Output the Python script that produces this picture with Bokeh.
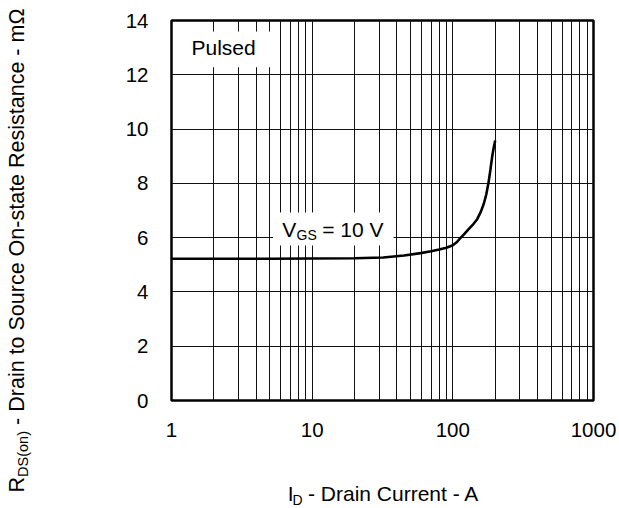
import math
from bokeh.plotting import figure
from bokeh.layouts import row, column
from bokeh.models import FixedTicker, Label, BasicTickFormatter, Range1d
from bokeh.embed import file_html
from bokeh.resources import INLINE

# ---- data ----
drain_current_A = [1, 5, 20, 32, 45, 59, 70, 80, 90, 100, 107, 113, 120, 130, 140, 149,
                   158, 166, 173, 179, 185, 190, 195, 200]
rds_on_mohm = [5.22, 5.22, 5.24, 5.27, 5.34, 5.43, 5.50, 5.56, 5.63, 5.72, 5.84, 5.98,
               6.12, 6.32, 6.50, 6.68, 6.95, 7.25, 7.60, 8.00, 8.50, 8.95, 9.30, 9.58]
x_ticks = [1, 10, 100, 1000]
x_tick_labels = ["1", "10", "100", "1000"]
y_ticks = [0, 2, 4, 6, 8, 10, 12, 14]
x_grid = [m * 10 ** k for k in range(3) for m in range(1, 10)] + [1000]
y_grid = [2, 4, 6, 8, 10, 12]

FONT = "Liberation Sans"
W, H = 619, 508
LW = 40          # width of the strip holding the y title
BH = 28          # height of the strip holding the x title
# frame position in the picture (px)
FL, FR, FT, FB = 171, 593, 20, 400
BASE_SHIFT = 0.38  # baseline correction, in em


def xd(px):
    return 10 ** (3.0 * (px - FL) / (FR - FL))


def yd(py):
    return 14.0 * (FB - py) / (FB - FT)


MW, MH = W - LW, H - BH
p = figure(width=MW, height=MH, x_axis_type="log", x_range=(1, 1000), y_range=(0, 14),
           output_backend="svg", toolbar_location=None,
           min_border_left=FL - LW, min_border_right=W - FR,
           min_border_top=FT, min_border_bottom=MH - FB)
p.background_fill_color = "white"
p.border_fill_color = "white"
p.outline_line_color = "black"
p.outline_line_width = 2.5

# grids
p.xgrid.ticker = FixedTicker(ticks=x_grid)
p.ygrid.ticker = FixedTicker(ticks=y_grid)
for g in (p.xgrid, p.ygrid):
    g.grid_line_color = "#111111"
    g.grid_line_width = 1
    g.minor_grid_line_color = None

# axes
p.xaxis.ticker = FixedTicker(ticks=x_ticks)
p.xaxis.formatter = BasicTickFormatter(use_scientific=False)
p.xaxis.major_label_overrides = dict(zip([float(t) for t in x_ticks], x_tick_labels))
p.yaxis.ticker = FixedTicker(ticks=y_ticks)
for ax in (p.xaxis, p.yaxis):
    ax.axis_line_color = None
    ax.major_tick_line_color = None
    ax.minor_tick_line_color = None
    ax.major_tick_out = 0
    ax.major_tick_in = 0
    ax.major_label_text_font = FONT
    ax.major_label_text_font_size = "20.5px"
    ax.major_label_text_color = "black"
p.xaxis.major_label_standoff = 22
p.yaxis.major_label_standoff = 23

# white label boxes
p.quad(left=[xd(173.5), xd(272.5)], right=[xd(277), xd(393)],
       bottom=[yd(66.7), yd(245)], top=[yd(31), yd(212)],
       fill_color="white", line_color=None)

# curve
p.line(drain_current_A, rds_on_mohm, line_color="black", line_width=2.6)


def lab(fig, x, y, text, size=21.0, conv=None, angle=0.0, align="left"):
    # (x, y) is where the text baseline sits in the picture
    sh = BASE_SHIFT * size
    if angle == 0.0:
        y = y - sh
    else:
        x = x - sh
    if conv is not None:
        x, y = conv[0](x), conv[1](y)
    fig.add_layout(Label(x=x, y=y, text=text, text_font=FONT,
                         text_font_size=f"{size}px", text_color="black",
                         text_align=align, text_baseline="alphabetic",
                         angle=angle, angle_units="rad"))


MAIN = (xd, yd)
lab(p, 191, 55, "Pulsed", conv=MAIN)
lab(p, 281.7, 236.7, "V", conv=MAIN)
lab(p, 296, 239.5, "GS", size=14.0, conv=MAIN)
lab(p, 321.7, 236.7, "= 10 V", conv=MAIN)


def strip(width, height, x0, x1, y0, y1):
    f = figure(width=width, height=height, x_range=Range1d(x0, x1),
               y_range=Range1d(y1, y0), output_backend="svg", toolbar_location=None,
               x_axis_location=None, y_axis_location=None, min_border=0, title=None)
    f.grid.visible = False
    f.outline_line_color = None
    f.background_fill_color = "white"
    f.border_fill_color = "white"
    return f


# x axis title strip: its frame is aligned with the main frame (FL..FR)
xs = strip(MW, BH, FL, FR, MH, H)
lab(xs, 287.3, 500.5, "I")
lab(xs, 292.0, 505.0, "D", size=14.0)
lab(xs, 307.5, 500.5, "- Drain Current - A")

# y axis title strip (picture coordinates, rotated text)
ys = strip(LW, H, 0, LW, 0, H)
ROT = math.pi / 2
lab(ys, 25, 484.2, "R", size=21.5, angle=ROT, align="center")
lab(ys, 28.5, 453.5, "DS(on)", size=14.5, angle=ROT, align="center")
lab(ys, 25, 216.2, "- Drain to Source On-state Resistance - m\u03a9", size=21.5,
    angle=ROT, align="center")

layout = row(ys, column(p, xs, spacing=0), spacing=0)
open("out.html", "w").write(file_html(layout, INLINE))
